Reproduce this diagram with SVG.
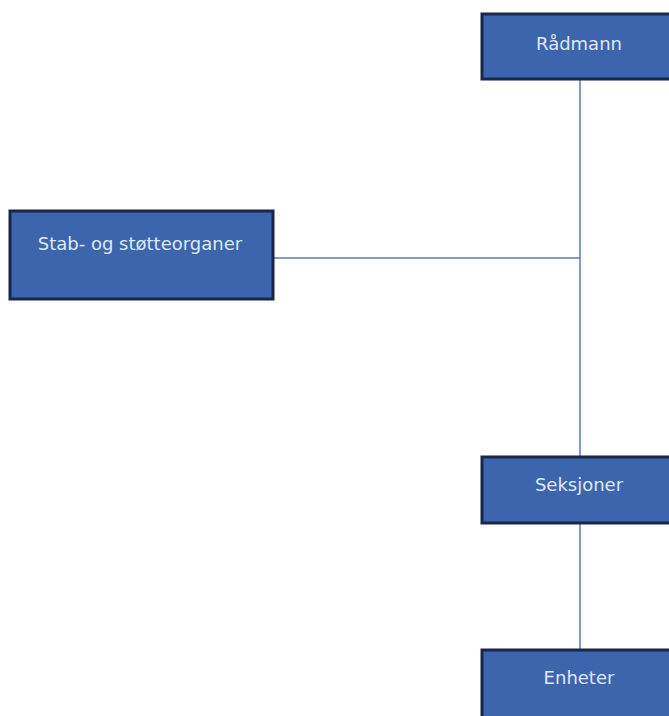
<svg xmlns="http://www.w3.org/2000/svg" width="669" height="716" viewBox="0 0 669 716">
<style>
.box{fill:#3d65ad;stroke:#1b2747;stroke-width:3}
.lbl{font-family:"DejaVu Sans",Verdana,sans-serif;font-size:18px;fill:#dfe8f6;text-anchor:middle}
.conn{stroke:#5b78b0;stroke-width:1.5;fill:none}
</style>
<rect width="669" height="716" fill="#ffffff"/>
<g id="connectors">
<line class="conn" x1="580" y1="80" x2="580" y2="457"/>
<line class="conn" x1="274" y1="258" x2="580" y2="258"/>
<line class="conn" x1="580" y1="524" x2="580" y2="650"/>
</g>
<g id="radmann">
<rect class="box" x="482" y="14" width="200" height="65"/>
<text class="lbl" x="579" y="50">Rådmann</text>
</g>
<g id="stab">
<rect class="box" x="10" y="211" width="263" height="88"/>
<text class="lbl" x="140" y="250">Stab- og støtteorganer</text>
</g>
<g id="seksjoner">
<rect class="box" x="482" y="457" width="200" height="66"/>
<text class="lbl" x="579" y="491">Seksjoner</text>
</g>
<g id="enheter">
<rect class="box" x="482" y="650" width="200" height="80"/>
<text class="lbl" x="579" y="684">Enheter</text>
</g>
</svg>
